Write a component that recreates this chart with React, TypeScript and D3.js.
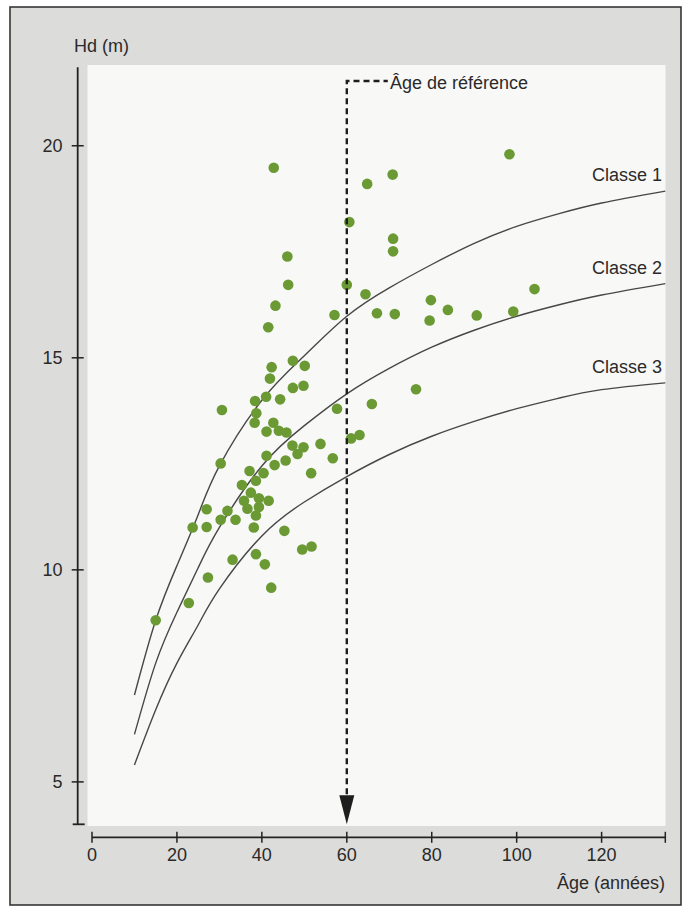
import React from 'react';
import * as d3 from 'd3';

// observed stands: age (years) and dominant height Hd (m)
const obsAge = [
  42.8, 60.6, 46.0, 60.0, 46.2, 43.2, 57.1, 41.5, 47.3, 42.3, 50.1, 41.9, 47.3, 49.8, 38.4, 41.0,
  44.3, 30.6, 57.7, 98.3, 70.8, 64.8, 70.9, 70.9, 64.4, 104.2, 67.1, 71.3, 79.8, 79.5, 83.8, 90.6,
  99.2, 76.3, 65.9, 61.0, 63.0, 49.8, 53.8, 56.7, 38.7, 38.3, 42.7, 41.1, 44.0, 45.8, 47.2, 41.1,
  43.0, 45.6, 48.4, 51.6, 30.3, 37.1, 40.4, 38.6, 35.3, 37.4, 39.3, 41.6, 35.8, 36.6, 39.3, 38.6,
  31.9, 27.0, 23.7, 27.0, 30.3, 33.8, 38.1, 45.3, 49.5, 51.7, 33.1, 38.6, 40.7, 27.3, 42.2, 22.8,
  15.0,
];
const obsHd = [
  19.48, 18.2, 17.39, 16.72, 16.72, 16.23, 16.01, 15.72, 14.93, 14.78, 14.81, 14.51, 14.29, 14.34, 13.98, 14.08,
  14.02, 13.77, 13.8, 19.8, 19.32, 19.1, 17.81, 17.51, 16.5, 16.62, 16.05, 16.03, 16.36, 15.88, 16.13, 16.0,
  16.09, 14.26, 13.91, 13.1, 13.18, 12.89, 12.97, 12.63, 13.69, 13.47, 13.47, 13.26, 13.28, 13.24, 12.93, 12.69,
  12.47, 12.58, 12.73, 12.28, 12.51, 12.33, 12.28, 12.1, 12.0, 11.82, 11.69, 11.63, 11.63, 11.44, 11.48, 11.28,
  11.39, 11.43, 11.0, 11.01, 11.18, 11.18, 11.0, 10.92, 10.48, 10.55, 10.24, 10.37, 10.13, 9.82, 9.58, 9.22,
  8.81,
];

// site-class curves
const curveAges = [10, 15, 20, 25, 30, 40, 50, 60, 70, 80, 90, 100, 110, 120, 135];
const classe1 = [7.05, 8.81, 10.1, 11.3, 12.45, 14.0, 15.05, 15.98, 16.65, 17.2, 17.7, 18.1, 18.4, 18.65, 18.93];
const classe2 = [6.12, 7.8, 9.0, 10.05, 11.0, 12.45, 13.4, 14.15, 14.75, 15.25, 15.65, 15.98, 16.25, 16.48, 16.75];
const classe3 = [5.4, 6.7, 7.8, 8.7, 9.55, 10.8, 11.6, 12.2, 12.72, 13.15, 13.5, 13.8, 14.05, 14.25, 14.41];
const classNames = ['Classe 1', 'Classe 2', 'Classe 3'];

const xTicks = [0, 20, 40, 60, 80, 100, 120];
const yTicks = [5, 10, 15, 20];
const refAge = 60;

const FONT = '"Liberation Sans", Arial, Helvetica, sans-serif';

export default function App() {
  const x = d3.scaleLinear().domain([0, 135]).range([92, 665.3]);
  const y = d3.scaleLinear().domain([4, 21.85]).range([824.3, 67.3]);
  const axisY = 837.3;
  const axisX = 77.7;

  const line = d3
    .line<number>()
    .x((_, i) => x(curveAges[i]))
    .y((d) => y(d))
    .curve(d3.curveNatural);

  const curves = [classe1, classe2, classe3];
  const rx = x(refAge);
  const tipY = y(4);
  const dashTop = 81;

  return (
    <svg
      width={682}
      height={908}
      style={{ position: 'absolute', left: 0, top: 0, display: 'block' }}
      fontFamily={FONT}
    >
      <rect x={0} y={0} width={682} height={908} fill="#ffffff" />
      <rect x={10} y={7} width={671} height={898} fill="#dcdcdb" stroke="#2a2a2a" strokeWidth={1.5} />
      <rect x={87.5} y={65} width={578} height={761} fill="#f8f8f7" />

      {/* y axis */}
      <line x1={axisX} x2={axisX} y1={y(21.85)} y2={y(4)} stroke="#222" strokeWidth={1.8} />
      <line x1={axisX - 5} x2={axisX + 7} y1={y(4)} y2={y(4)} stroke="#222" strokeWidth={1.8} />
      {yTicks.map((t) => (
        <g key={t}>
          <line x1={axisX - 6} x2={axisX + 6} y1={y(t)} y2={y(t)} stroke="#222" strokeWidth={1.5} />
          <text x={62.5} y={y(t) + 6.3} textAnchor="end" fontSize={18} fill="#2a2a2a">
            {t}
          </text>
        </g>
      ))}
      <text x={74} y={52} fontSize={18} fill="#2a2a2a">
        Hd (m)
      </text>

      {/* x axis */}
      <line x1={x(0)} x2={x(135)} y1={axisY} y2={axisY} stroke="#222" strokeWidth={1.8} />
      {xTicks.map((t) => (
        <g key={t}>
          <line x1={x(t)} x2={x(t)} y1={axisY - 5.5} y2={axisY + 5.5} stroke="#222" strokeWidth={1.5} />
          <text x={x(t)} y={861} textAnchor="middle" fontSize={18} fill="#2a2a2a">
            {t}
          </text>
        </g>
      ))}
      <line x1={x(135)} x2={x(135)} y1={axisY - 5.5} y2={axisY + 5.5} stroke="#222" strokeWidth={1.5} />
      <text x={665} y={889} textAnchor="end" fontSize={18} fill="#2a2a2a">
        Âge (années)
      </text>

      {/* class curves */}
      {curves.map((c, i) => (
        <path key={i} d={line(c) || ''} fill="none" stroke="#474747" strokeWidth={1.4} />
      ))}
      {classNames.map((n, i) => (
        <text key={n} x={662} y={y(curves[i][curves[i].length - 1]) - 10} textAnchor="end" fontSize={18} fill="#2a2a2a">
          {n}
        </text>
      ))}

      {/* observations */}
      {obsAge.map((a, i) => (
        <circle key={i} cx={x(a)} cy={y(obsHd[i])} r={5.3} fill="#6b9a35" />
      ))}

      {/* reference age */}
      <path
        d={`M${rx},${tipY - 30}V${dashTop}H${rx + 41}`}
        fill="none"
        stroke="#1e1e1e"
        strokeWidth={2.4}
        strokeDasharray="6,4"
      />
      <path d={`M${rx - 7.5},${tipY - 29}L${rx + 7.5},${tipY - 29}L${rx},${tipY}Z`} fill="#1e1e1e" />
      <text x={390} y={89} fontSize={18} fill="#2a2a2a">
        Âge de référence
      </text>
    </svg>
  );
}
